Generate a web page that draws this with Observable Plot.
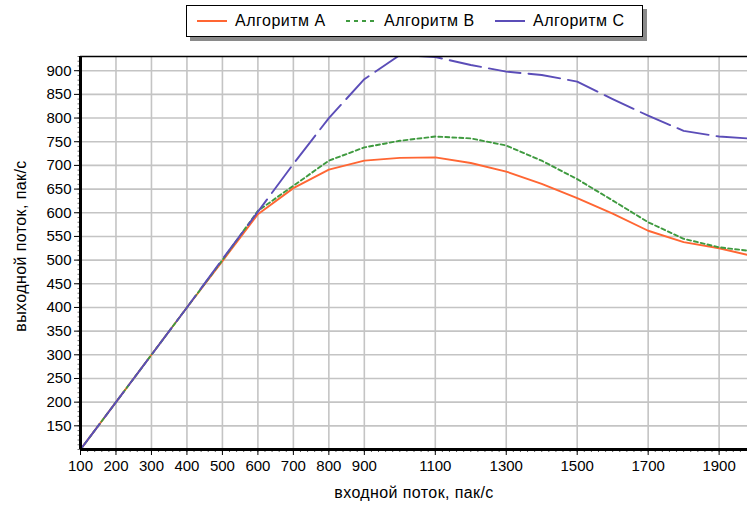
<!DOCTYPE html>
<html>
<head>
<meta charset="utf-8">
<script src="https://cdn.jsdelivr.net/npm/d3@7"></script>
<script src="https://cdn.jsdelivr.net/npm/@observablehq/plot@0.6"></script>
<style>
  html, body { margin: 0; padding: 0; background: #fff; }
  #wrap { position: relative; width: 747px; height: 506px; overflow: hidden; font-family: "Liberation Sans", Arial, sans-serif; }
  #legend { position: absolute; left: 186px; top: 5px; width: 455px; height: 30px; border: 1px solid #000; background: #fff;
            box-shadow: 4px 4px 0 #8a8a8a; font-size: 16px; letter-spacing: 0.5px; color: #000; z-index: 2; }
  .item { position: absolute; top: 0; height: 30px; display: flex; align-items: center; white-space: nowrap; }
  .item svg { margin: 0 8px 0 0; }
</style>
</head>
<body>
<div id="wrap">
  <div id="legend"></div>
  <div id="chart"></div>
</div>
<script>
// ---- data ----
const inputFlow = [100, 200, 300, 400, 500, 600, 700, 800, 900, 1000, 1100, 1200, 1300, 1400, 1500, 1600, 1700, 1800, 1900, 1980];
const algA = [100, 200, 300, 400, 498, 597, 652, 691, 710, 716, 717, 705, 687, 661, 631, 598, 562, 538, 525, 511];
const algB = [100, 200, 300, 400, 500, 604, 657, 710, 738, 752, 761, 757, 742, 710, 671, 626, 580, 545, 527, 520];
const algC = [100, 200, 300, 400, 502, 602, 703, 800, 882, 933, 929, 912, 898, 891, 877, 840, 805, 773, 761, 757];
const seriesNames = ["Алгоритм А", "Алгоритм В", "Алгоритм С"];
const xTicks = [100, 200, 300, 400, 500, 600, 700, 800, 900, 1100, 1300, 1500, 1700, 1900];
const xMinorTicks = d3.range(100, 1981, 20);
const yTicks = [150, 200, 250, 300, 350, 400, 450, 500, 550, 600, 650, 700, 750, 800, 850, 900];
const yMinorTicks = d3.range(100, 931, 10);
const xTitle = "входной поток, пак/с";
const yTitle = "выходной поток, пак/с";

const colors = ["#ff6633", "#3f9a3f", "#5b4db8"];
const dashes = [null, "4,3", "32,8"];
const legendLeft = [10, 159, 308];

const series = [algA, algB, algC].map((vals, i) =>
  inputFlow.map((x, j) => ({x, y: vals[j], s: seriesNames[i]})));

// legend
const legend = document.getElementById("legend");
seriesNames.forEach((name, i) => {
  const it = document.createElement("div");
  it.className = "item";
  it.style.left = legendLeft[i] + "px";
  it.innerHTML = `<svg width="30" height="6"><line x1="0" x2="30" y1="3" y2="3" stroke="${colors[i]}" stroke-width="2" ${i === 1 ? 'stroke-dasharray="4,4"' : ""}></line></svg><span>${name}</span>`;
  legend.appendChild(it);
});

const chart = Plot.plot({
  width: 747,
  height: 506,
  marginLeft: 80,
  marginRight: 0,
  marginTop: 56,
  marginBottom: 57,
  style: {fontFamily: "'Liberation Sans', Arial, sans-serif", fontSize: "15px", color: "#000", background: "#fff"},
  x: {domain: [100, 1980], axis: null},
  y: {domain: [100, 930], axis: null},
  marks: [
    Plot.gridX(xTicks, {stroke: "#c4c4c4", strokeOpacity: 1, strokeWidth: 1.6}),
    Plot.gridY(yTicks, {stroke: "#c4c4c4", strokeOpacity: 1, strokeWidth: 1.6}),
    ...series.map((d, i) => Plot.line(d, {x: "x", y: "y", stroke: colors[i], strokeWidth: 1.9, strokeDasharray: dashes[i], clip: true})),
    Plot.axisX(xMinorTicks, {tickSize: 3, tickFormat: () => "", label: null, stroke: "#555"}),
    Plot.axisX(xTicks, {tickSize: 6, tickPadding: 5, label: null, fontSize: 15, tickFormat: d => String(d)}),
    Plot.axisY(yMinorTicks, {tickSize: 2.5, tickFormat: () => "", label: null, stroke: "#777"}),
    Plot.axisY(yTicks, {tickSize: 6, tickPadding: 3, label: null, fontSize: 15, tickFormat: d => String(d)}),
    Plot.ruleY([930], {stroke: "#000", strokeWidth: 1.5}),
    Plot.ruleX([100], {stroke: "#000", strokeWidth: 3}),
    Plot.ruleY([100], {stroke: "#000", strokeWidth: 3}),
    Plot.text([xTitle], {frameAnchor: "bottom", lineAnchor: "middle", dy: 43, fontSize: 16, style: "letter-spacing:0.4px"}),
    Plot.text([yTitle], {frameAnchor: "left", textAnchor: "middle", lineAnchor: "middle", dx: -60, dy: -7, rotate: -90, fontSize: 16})
  ]
});
// letter-spacing for titles
chart.querySelectorAll("text").forEach(t => {
  if (t.textContent === xTitle || t.textContent === yTitle) t.setAttribute("letter-spacing", "0.4");
});
document.getElementById("chart").appendChild(chart);
</script>
</body>
</html>
